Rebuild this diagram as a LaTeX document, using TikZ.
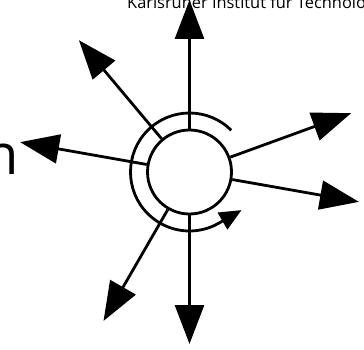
\documentclass[tikz,border=0pt]{standalone}
\usepackage{fontspec}
\setsansfont{Open Sans}
\usetikzlibrary{calc,arrows.meta}
\tikzset{
  hub/.style      = {circle, draw=black, fill=white, line width=2.8pt, minimum size=84pt, inner sep=0pt},
  ray/.style      = {-{Triangle[length=39pt,width=29pt]}, draw=black, line width=2.8pt},
  spin/.style     = {-{Triangle[length=22pt,width=19pt]}, draw=black, line width=2.8pt},
  headline/.style = {font=\sffamily\fontsize{16.4}{19}\selectfont, anchor=base west, inner sep=0pt},
  bigtext/.style  = {font=\sffamily\fontsize{56}{60}\selectfont, anchor=base east, inner sep=0pt},
}
\begin{document}
\begin{tikzpicture}[x=1pt,y=1pt]
  \useasboundingbox (0,0) rectangle (364,349);
  \clip (0,0) rectangle (364,349);

  % ----- cropped slide text -----
  \node[headline] (kit) at (127,340) {Karlsruher Institut für Technologie};
  \node[bigtext] (word) at (19.5,175) {n};

  % ----- centre -----
  \node[hub] (core) at (189.5,177) {};

  % ----- rotation arc -----
  \coordinate (arcstart) at ($(core.center)+(45:59)$);
  \draw[spin] (arcstart) arc[start angle=45, end angle=300, radius=59] -- ++(30:26);

  % ----- rays -----
  \foreach \a in {90,130,170,20,-10,240,270} {
    \coordinate (tip\a) at ($(core.center)+(\a:172)$);
    \draw[ray] (core.\a) -- (tip\a);
  }
\end{tikzpicture}
\end{document}
